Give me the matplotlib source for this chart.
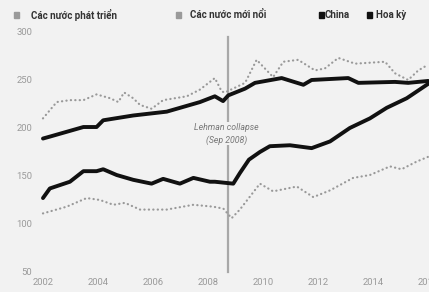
import matplotlib
matplotlib.use('Agg')
import matplotlib.pyplot as plt

# Index values (fractional years)
dev_years = [2002.0, 2002.5, 2002.98, 2003.47, 2003.95, 2004.44, 2004.74, 2004.95, 2005.28,
             2005.53, 2005.95, 2006.37, 2007.23, 2007.71, 2008.25, 2008.5, 2008.62, 2009.35,
             2009.77, 2010.37, 2010.74, 2011.28, 2011.89, 2012.25, 2012.74, 2013.35, 2014.44,
             2014.8, 2015.28, 2015.65, 2016.01]
dev_vals = [210, 227, 229, 229, 235, 231, 227, 237, 231,
            224, 220, 229, 233, 240, 252, 238, 237, 247,
            271, 253, 269, 271, 260, 262, 273, 267, 269,
            257, 250, 260, 266]

emg_years = [2002.0, 2002.86, 2003.59, 2004.07, 2004.56, 2004.98, 2005.53, 2006.5, 2007.47,
             2008.19, 2008.56, 2008.86, 2009.16, 2009.89, 2010.37, 2011.23, 2011.83, 2012.44,
             2013.28, 2013.89, 2014.62, 2015.04, 2015.59, 2016.01]
emg_vals = [111, 118, 127, 125, 120, 122, 115, 115, 120,
            118, 116, 106, 115, 142, 134, 139, 128, 135,
            148, 151, 160, 157, 165, 170]

china_years = [2002.0, 2002.25, 2003.47, 2003.95, 2004.19, 2005.28, 2006.5, 2007.71, 2008.25,
               2008.55, 2008.74, 2009.35, 2009.71, 2010.68, 2011.47, 2011.77, 2013.1, 2013.47,
               2014.8, 2015.28, 2016.01]
china_vals = [189, 191, 201, 201, 208, 213, 217, 227, 233,
              228, 234, 241, 247, 252, 245, 250, 252, 247,
              248, 247, 249]

us_years = [2002.0, 2002.25, 2002.98, 2003.47, 2003.95, 2004.19, 2004.68, 2005.28, 2005.95,
            2006.37, 2006.98, 2007.47, 2008.07, 2008.25, 2008.92, 2009.16, 2009.49, 2009.89,
            2010.25, 2010.98, 2011.77, 2012.44, 2013.16, 2013.89, 2014.5, 2015.23, 2016.01]
us_vals = [127, 137, 144, 155, 155, 157, 151, 146, 142,
           147, 142, 148, 144, 144, 142, 153, 167, 175,
           181, 182, 179, 186, 200, 210, 221, 231, 246]

lehman_year = 2008.72
x_ticks = [2002, 2004, 2006, 2008, 2010, 2012, 2014, 2016]
y_ticks = [50, 100, 150, 200, 250, 300]

legend_labels = ['Các nước phát triển', 'Các nước mới nổi', 'China', 'Hoa kỳ']

bg = '#f2f2f2'
W, H = 429, 292
fig = plt.figure(figsize=(W / 100, H / 100), dpi=100, facecolor=bg)
ax = fig.add_axes([35 / W, 1 - 276 / H, 410 / W, 254 / H], facecolor=bg)

dots = (0, (0.1, 1.9))
ax.plot(dev_years, dev_vals, color='#999999', lw=1.6, ls=dots, dash_capstyle='round')
ax.plot(emg_years, emg_vals, color='#999999', lw=1.6, ls=dots, dash_capstyle='round')
ax.plot(china_years, china_vals, color='#111111', lw=2.8, solid_capstyle='round')
ax.plot(us_years, us_vals, color='#111111', lw=2.8, solid_capstyle='round')

ax.plot([lehman_year, lehman_year], [50, 295], color='#a8a8a8', lw=1.6, zorder=1)
ax.text(lehman_year - 0.05, 194, 'Lehman collapse\n(Sep 2008)', ha='center', va='center',
        fontsize=6.3, style='italic', color='#777777', family='Roboto', linespacing=1.4,
        bbox=dict(facecolor=bg, edgecolor='none', pad=0.5), zorder=2)

ax.set_xlim(2001.71, 2016.62)
ax.set_ylim(45.8, 310.4)
ax.set_xticks(x_ticks)
ax.set_yticks(y_ticks)
ax.tick_params(length=0, labelsize=6.8, labelcolor='#9a9a9a')
ax.tick_params(axis='x', pad=1.5)
ax.tick_params(axis='y', pad=2)
for lab in ax.get_xticklabels() + ax.get_yticklabels():
    lab.set_family('Roboto')
for s in ax.spines.values():
    s.set_visible(False)

# legend row on top
def fx(px):
    return px / W

def fy(py):
    return 1 - py / H

sq_y = 15
fig.patches.append(plt.Rectangle((fx(14), fy(18)), 5 / W, 6 / H, transform=fig.transFigure,
                                 color='#9a9a9a'))
fig.text(fx(31), fy(sq_y), legend_labels[0], fontsize=7, fontweight='bold', color='#333333',
         va='center', family='Roboto')
fig.patches.append(plt.Rectangle((fx(176), fy(18)), 5 / W, 6 / H, transform=fig.transFigure,
                                 color='#9a9a9a'))
fig.text(fx(190), fy(sq_y), legend_labels[1], fontsize=7, fontweight='bold', color='#333333',
         va='center', family='Roboto')
fig.patches.append(plt.Rectangle((fx(319), fy(18)), 5 / W, 6 / H, transform=fig.transFigure,
                                 color='#111111'))
fig.text(fx(325), fy(sq_y), legend_labels[2], fontsize=7, fontweight='bold', color='#333333',
         va='center', family='Roboto')
fig.patches.append(plt.Rectangle((fx(367), fy(18)), 5 / W, 6 / H, transform=fig.transFigure,
                                 color='#111111'))
fig.text(fx(376), fy(sq_y), legend_labels[3], fontsize=7, fontweight='bold', color='#333333',
         va='center', family='Roboto')

fig.savefig('out.png', dpi=100, facecolor=bg)
